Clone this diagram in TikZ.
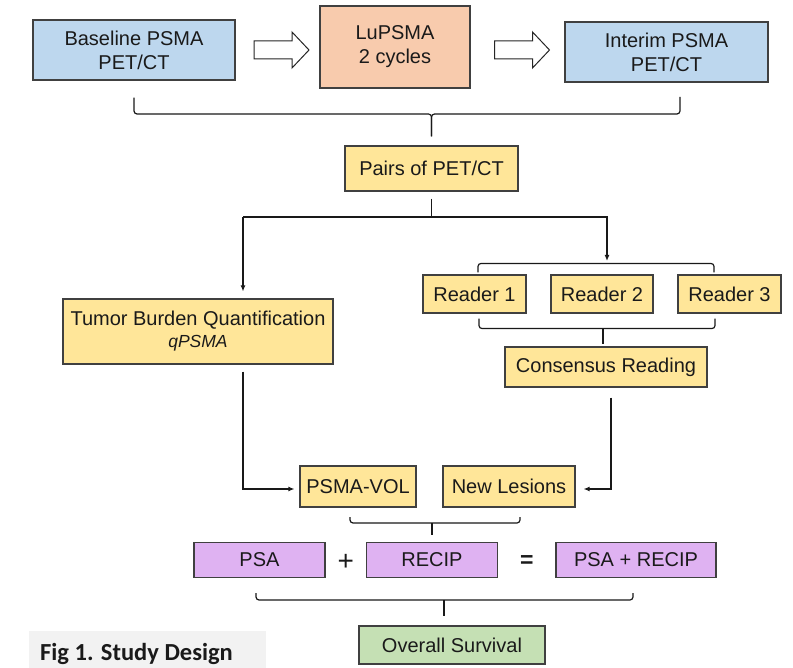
\documentclass[tikz,border=0pt]{standalone}
\usepackage{fontspec}
\setmainfont{Liberation Sans}
\newfontfamily\figfont{Carlito}
\usetikzlibrary{arrows.meta,calc}
\definecolor{bluebox}{RGB}{189,215,238}
\definecolor{salmon}{RGB}{248,203,173}
\definecolor{yellowbox}{RGB}{255,230,153}
\definecolor{purplebox}{RGB}{223,178,242}
\definecolor{greenbox}{RGB}{197,224,180}
\definecolor{labelgrey}{RGB}{242,242,242}
\definecolor{txt}{RGB}{26,26,26}
\newcommand\hollowarrow[1]{\draw[harrow] ($(#1)+(-27.5,-9)$) -- ($(#1)+(10.5,-9)$) -- ($(#1)+(10.5,-18)$) -- ($(#1)+(27.5,0)$) -- ($(#1)+(10.5,18)$) -- ($(#1)+(10.5,9)$) -- ($(#1)+(-27.5,9)$) -- cycle;}
\tikzset{
  box/.style={draw=black!75, line width=1.1pt, inner sep=0pt, align=center, text=txt,
    font=\fontsize{20}{24}\selectfont},
  harrow/.style={draw=black!85, line width=1pt, fill=white, line join=miter},
  conn/.style={draw=black!90, line width=1.2pt, rounded corners=3pt},
  arr/.style={conn, -{Latex[length=6pt,width=5pt]}},
}
\begin{document}
\begin{tikzpicture}[x=1pt,y=-1pt]
\useasboundingbox (0,0) rectangle (793,668);
% top row
\node[box, fill=bluebox, minimum width=202pt, minimum height=60pt] (base) at (134,50) {Baseline PSMA\\PET/CT};
\node[box, fill=salmon, minimum width=150pt, minimum height=82pt] (lu) at (395,47) {LuPSMA\\2 cycles};
\node[box, fill=bluebox, minimum width=203pt, minimum height=60pt] (interim) at (666.5,52) {Interim PSMA\\PET/CT};
\coordinate (a1) at (281.5,50);
\coordinate (a2) at (522,50);
\hollowarrow{a1}
\hollowarrow{a2}
% pairs
\node[box, fill=yellowbox, minimum width=173pt, minimum height=45pt] (pairs) at (431.5,168.5) {Pairs of PET/CT};
\coordinate (b1) at ($(base.south)+(0,17)$);
\coordinate (b2) at (680,97);
\coordinate (bm) at ($(pairs.north)+(0,-9)$);
\draw[conn] (b1) -- (b1 |- 0,114) -- (bm |- 0,114) -- (bm);
\draw[conn] (b2) -- (b2 |- 0,114) -- (bm |- 0,114) -- (bm);
% split
\node[box, fill=yellowbox, minimum width=270pt, minimum height=65pt] (tumor) at (198,331.5) {Tumor Burden Quantification\\[-2pt]{\fontsize{17.5}{20}\selectfont\itshape qPSMA}};
\node[box, fill=yellowbox, minimum width=103pt, minimum height=38pt] (r1) at (474.5,294) {Reader 1};
\node[box, fill=yellowbox, minimum width=102pt, minimum height=38pt] (r2) at (602,294) {Reader 2};
\node[box, fill=yellowbox, minimum width=103pt, minimum height=38pt] (r3) at (729.5,294) {Reader 3};
\node[box, fill=yellowbox, minimum width=202pt, minimum height=40pt] (cons) at (606,367) {Consensus Reading};
\coordinate (s0) at ($(pairs.south)+(0,7)$);
\coordinate (rt) at (607,264);
\draw[conn, rounded corners=0pt] (s0) -- (s0 |- 0,217);
\draw[arr, rounded corners=0pt] (243,217) -- (607,217) -- ($(rt)+(0,-3)$);
\draw[arr, rounded corners=0pt] (243,217) -- ($(tumor.north -| 243,0)+(0,-7)$);
% reader braces
\draw[conn] ($(r1.north)+(3.5,-2)$) -- ($(r1.north)+(3.5,-11)$) -- ($(r3.north)+(-15.5,-11)$) -- ($(r3.north)+(-15.5,-2)$);
\draw[conn] ($(r1.south)+(4.5,5)$) -- ($(r1.south)+(4.5,15)$) -- ($(r3.south)+(-14.5,15)$) -- ($(r3.south)+(-14.5,5)$);
\draw[conn] ($(r2.south)+(1,15)$) -- ($(cons.north)+(-3,-2)$);
% bottom row
\node[box, fill=yellowbox, minimum width=116pt, minimum height=41pt] (vol) at (358,486.5) {PSMA-VOL};
\node[box, fill=yellowbox, minimum width=132pt, minimum height=41pt] (nl) at (509,486.5) {New Lesions};
\draw[arr, rounded corners=0pt] ($(tumor.south)+(45,7)$) -- (243,489) -- ($(vol.west)+(-5,2.5)$);
\draw[arr, rounded corners=0pt] ($(cons.south)+(5,10)$) -- (611,489) -- ($(nl.east)+(8,2.5)$);
\draw[conn] (350,517) -- (350,523) -- (520,523) -- (520,517);
\draw[conn] (432,523) -- (432,535);
\node[box, fill=purplebox, minimum width=131pt, minimum height=35pt] (psa) at (259.5,560) {PSA};
\node[box, fill=purplebox, minimum width=131pt, minimum height=35pt] (recip) at (432,560) {RECIP};
\node[box, fill=purplebox, minimum width=160pt, minimum height=35pt] (both) at (636,560) {PSA + RECIP};
\node[text=txt, font=\fontsize{28}{30}\selectfont] (plus) at ($(psa.east)!0.5!(recip.west)+(0,2)$) {+};
\node[text=txt, font=\fontsize{23}{26}\selectfont\bfseries] (eq) at ($(recip.east)!0.5!(both.west)+(0,2)$) {=};
\draw[conn] (256,593) -- (256,600) -- (633,600) -- (633,593);
\draw[conn] (444,600) -- (444,616);
\node[box, fill=greenbox, minimum width=186pt, minimum height=38pt] (os) at (452,645) {Overall Survival};
% caption
\fill[labelgrey] (29,631) rectangle (266,668);
\node[anchor=base west, inner sep=0pt, text=txt, font=\figfont\fontsize{24.5}{28}\selectfont\bfseries] (cap) at (40,660) {Fig 1. Study Design};
\end{tikzpicture}
\end{document}
